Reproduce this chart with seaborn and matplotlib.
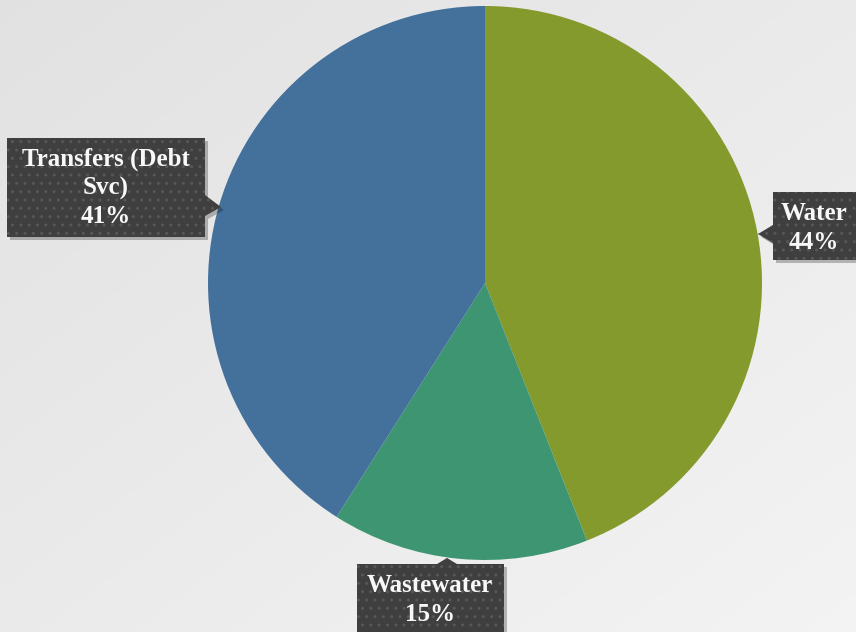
import numpy as np
import matplotlib
matplotlib.use("Agg")
import matplotlib.pyplot as plt
from matplotlib.patches import Polygon
import seaborn as sns

# Budget shares by fund
categories = ["Water", "Wastewater", "Transfers (Debt Svc)"]
shares = [44, 15, 41]
label_text = ["Water", "Wastewater", "Transfers (Debt\nSvc)"]
colors = ["#849a2d", "#3e9571", "#44709c"]

sns.set_theme(style="white")
plt.rcParams["font.family"] = ["Liberation Serif", "DejaVu Serif"]

W, H = 856, 632
fig = plt.figure(figsize=(W / 100, H / 100), dpi=100)

# soft diagonal gradient backdrop
bg = fig.add_axes([0, 0, 1, 1], zorder=0)
yy, xx = np.mgrid[0:1:200j, 0:1:300j]
grad = 0.5 * xx + 0.5 * yy
img = np.empty(grad.shape + (3,))
lo, hi = np.array([0.885, 0.885, 0.885]), np.array([0.955, 0.955, 0.955])
for c in range(3):
    img[..., c] = lo[c] + (hi[c] - lo[c]) * grad
bg.imshow(img, extent=[0, 1, 1, 0], aspect="auto")
bg.set_xlim(0, 1)
bg.set_ylim(1, 0)
bg.axis("off")

# pie
cx, cy, r = 485, 283, 277
pax = fig.add_axes([(cx - r) / W, (H - cy - r) / H, 2 * r / W, 2 * r / H], zorder=1)
pax.pie(shares, colors=colors, startangle=90, counterclock=False, radius=1,
        wedgeprops=dict(linewidth=0))
pax.set_xlim(-1, 1)
pax.set_ylim(-1, 1)
pax.set_aspect("equal")
pax.axis("off")

# callout labels in pixel space
ov = fig.add_axes([0, 0, 1, 1], zorder=2)
ov.set_xlim(0, W)
ov.set_ylim(H, 0)
ov.axis("off")
ov.patch.set_alpha(0)

callouts = {
    "Water": dict(box=(773, 192, 870, 260), ptr=[(773, 225), (758, 234), (773, 243)], text=(814, 228)),
    "Wastewater": dict(box=(357, 564, 504, 645), ptr=[(437, 564), (447, 558), (457, 564)], text=(430, 600)),
    "Transfers (Debt Svc)": dict(box=(7, 138, 205, 237), ptr=[(205, 195), (221, 207), (205, 216)], text=(106, 188)),
}

for name, lab, val in zip(categories, label_text, shares):
    c = callouts[name]
    x0, y0, x1, y1 = c["box"]
    if c["ptr"][0][0] == x0 and c["ptr"][2][0] == x0:
        pts = [(x0, y0), (x1, y0), (x1, y1), (x0, y1)] + c["ptr"][::-1]
    elif c["ptr"][0][0] == x1:
        pts = [(x0, y0), (x1, y0)] + c["ptr"] + [(x1, y1), (x0, y1)]
    else:
        pts = [(x0, y0)] + c["ptr"] + [(x1, y0), (x1, y1), (x0, y1)]
    shadow = Polygon([(px + 3, py + 3) for px, py in pts], closed=True,
                     facecolor="black", alpha=0.25, linewidth=0)
    ov.add_patch(shadow)
    box = Polygon(pts, closed=True, facecolor="#3f3f3f", edgecolor="#575757",
                  linewidth=0, hatch="..")
    ov.add_patch(box)
    ov.text(c["text"][0], c["text"][1], f"{lab}\n{val}%", ha="center", va="center",
            color="#f8f8f8", fontsize=18, fontweight="bold", linespacing=1.3)

fig.savefig("out.png", dpi=100)
